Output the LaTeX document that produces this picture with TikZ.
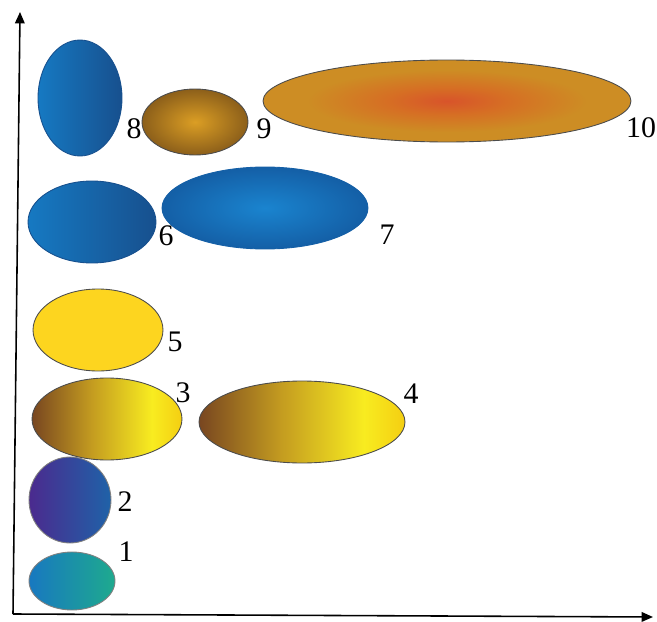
\documentclass[tikz,border=0pt]{standalone}
\usepackage{fontspec}
\setmainfont{Liberation Serif}
\usepackage{tikz}
\usetikzlibrary{shapes.geometric,arrows.meta}
\definecolor{blueL}{HTML}{1679C2}
\definecolor{blueD}{HTML}{17508E}
\definecolor{blueC}{HTML}{1A84CF}
\definecolor{blueE}{HTML}{145FA6}
\definecolor{brnC}{HTML}{DB9E24}
\definecolor{brnE}{HTML}{8C5F1A}
\definecolor{redC}{HTML}{D8542A}
\definecolor{orgE}{HTML}{CD8D24}
\definecolor{sunY}{HTML}{FDD51F}
\definecolor{purL}{HTML}{4B2A8E}
\definecolor{purR}{HTML}{1F62A8}
\definecolor{tealL}{HTML}{1878C0}
\definecolor{tealR}{HTML}{1EAA8E}
\pgfdeclarehorizontalshading{goldbar}{100bp}{color(0bp)=(rgb,255:red,120;green,70;blue,32);
  color(25bp)=(rgb,255:red,120;green,70;blue,32);
  color(45bp)=(rgb,255:red,196;green,156;blue,32);
  color(65bp)=(rgb,255:red,248;green,236;blue,32);
  color(75bp)=(rgb,255:red,244;green,206;blue,18);
  color(100bp)=(rgb,255:red,244;green,206;blue,18)}
\pgfdeclareradialshading{emberglow}{\pgfpoint{0bp}{0bp}}{color(0bp)=(redC);
  color(8bp)=(rgb,255:red,214;green,110;blue,36);
  color(19bp)=(orgE); color(50bp)=(orgE)}

\begin{document}
\begin{tikzpicture}[
  x=0.02cm,y=-0.02cm,
  blob/.style={ellipse,inner sep=0pt,draw=black!70,line width=0.5pt},
  bluebar/.style={blob,draw=blueD,left color=blueL,right color=blueD},
  num/.style={font=\fontsize{17}{20}\selectfont,inner sep=0pt},
  axis/.style={line width=0.9pt,-{Triangle[length=6.5pt,width=5.5pt]}}
]
\useasboundingbox (0,0) rectangle (657,622);

% top row
\node[bluebar,minimum width=1.68cm,minimum height=2.32cm] (e8) at (80,98) {};
\node[blob,inner color=brnC,outer color=brnE,minimum width=2.12cm,minimum height=1.32cm] (e9) at (195,122) {};
\node[blob,shading=emberglow,minimum width=7.36cm,minimum height=1.64cm] (e10) at (447,101) {};

\node[bluebar,minimum width=2.56cm,minimum height=1.64cm] (e6) at (92,222) {};
\node[blob,draw=blueE,inner color=blueC,outer color=blueE,minimum width=4.12cm,minimum height=1.64cm] (e7) at (265,208) {};

\node[blob,fill=sunY,minimum width=2.6cm,minimum height=1.64cm] (e5) at (98,330) {};

\node[blob,shading=goldbar,minimum width=3.0cm,minimum height=1.64cm] (e3) at (107,419) {};
\node[blob,shading=goldbar,minimum width=4.12cm,minimum height=1.64cm] (e4) at (302,422) {};

\node[blob,draw=black!50,left color=purL,right color=purR,minimum width=1.64cm,minimum height=1.72cm] (e2) at (70,500) {};
\node[blob,draw=black!50,left color=tealL,right color=tealR,minimum width=1.72cm,minimum height=1.16cm] (e1) at (72,581) {};

% labels
\node[num] (l8) at (134,129) {8};
\node[num] (l9) at (264,129) {9};
\node[num] (l10) at (641,128) {10};
\node[num] (l6) at (166,236) {6};
\node[num] (l7) at (387,235) {7};
\node[num] (l5) at (175,342) {5};
\node[num] (l3) at (183,393) {3};
\node[num] (l4) at (411,394) {4};
\node[num] (l2) at (125,502) {2};
\node[num] (l1) at (126,552) {1};

% axes
\coordinate (O) at (13,614);
\coordinate (ytip) at (20,12);
\coordinate (xtip) at (653,617);
\draw[axis] (O) -- (ytip);
\draw[axis] (O) -- (xtip);
\end{tikzpicture}
\end{document}
